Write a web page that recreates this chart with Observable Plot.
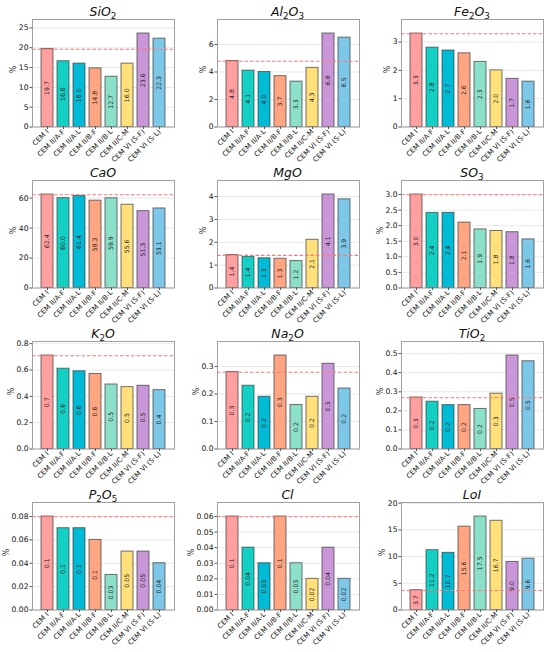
<!DOCTYPE html>
<html>
<head>
<meta charset="utf-8">
<script src="https://cdn.jsdelivr.net/npm/d3@7"></script>
<script src="https://cdn.jsdelivr.net/npm/@observablehq/plot@0.6"></script>
<style>
  body { margin: 0; background: white; font-family: "DejaVu Sans", sans-serif; }
  #chart { position: relative; width: 550px; height: 652px; background: white; overflow: hidden; }
  .ttl { position: absolute; text-align: center; font-size: 12.5px; line-height: 14px; font-style: italic; color: #111; white-space: nowrap; }
  .ttl sub { font-size: 0.7em; line-height: 0; vertical-align: -0.3em; font-style: normal; }
  .pn { position: absolute; }
  .pn svg { max-width: none !important; overflow: visible; }
</style>
</head>
<body>
<div id="chart"></div>
<script>
const cats = ["CEM I","CEM II/A-F","CEM II/A-L","CEM II/B-F","CEM II/B-L","CEM II/C-M","CEM VI (S-F)","CEM VI (S-L)"];
const colors = ["#ff9f9f","#14cfc4","#00bbd5","#ffa582","#8ce0ca","#ffe07a","#c996d8","#7dc8e8"];

const names = ["SiO2","Al2O3","Fe2O3","CaO","MgO","SO3","K2O","Na2O","TiO2","P2O5","Cl","LoI"];

const sio2  = [19.7, 16.6, 16.0, 14.8, 12.7, 16.0, 23.6, 22.3];
const al2o3 = [4.8, 4.1, 4.0, 3.7, 3.3, 4.3, 6.8, 6.5];
const fe2o3 = [3.3, 2.8, 2.7, 2.6, 2.3, 2.0, 1.7, 1.6];
const cao   = [62.4, 60.0, 61.4, 58.3, 59.9, 55.6, 51.3, 53.1];
const mgo   = [1.44, 1.36, 1.30, 1.28, 1.18, 2.11, 4.09, 3.88];
const so3   = [3.0, 2.41, 2.41, 2.10, 1.88, 1.83, 1.79, 1.56];
const k2o   = [0.71, 0.61, 0.59, 0.57, 0.49, 0.47, 0.48, 0.447];
const na2o  = [0.28, 0.23, 0.19, 0.34, 0.16, 0.19, 0.31, 0.22];
const tio2  = [0.27, 0.248, 0.23, 0.23, 0.21, 0.29, 0.49, 0.46];
const p2o5  = [0.08, 0.07, 0.07, 0.06, 0.03, 0.05, 0.05, 0.04];
const cl    = [0.06, 0.04, 0.03, 0.06, 0.03, 0.02, 0.04, 0.02];
const loi   = [3.7, 11.2, 10.7, 15.6, 17.5, 16.7, 9.0, 9.6];

const sio2Ticks  = ["0","5","10","15","20","25"];
const al2o3Ticks = ["0","2","4","6"];
const fe2o3Ticks = ["0","1","2","3"];
const caoTicks   = ["0","20","40","60"];
const mgoTicks   = ["0","1","2","3","4"];
const so3Ticks   = ["0.0","0.5","1.0","1.5","2.0","2.5","3.0"];
const k2oTicks   = ["0.0","0.2","0.4","0.6","0.8"];
const na2oTicks  = ["0.0","0.1","0.2","0.3"];
const tio2Ticks  = ["0.0","0.1","0.2","0.3","0.4","0.5"];
const p2o5Ticks  = ["0.00","0.02","0.04","0.06","0.08"];
const clTicks    = ["0.00","0.01","0.02","0.03","0.04","0.05","0.06"];
const loiTicks   = ["0","5","10","15","20"];

const valueSets = [sio2, al2o3, fe2o3, cao, mgo, so3, k2o, na2o, tio2, p2o5, cl, loi];
const tickSets = [sio2Ticks, al2o3Ticks, fe2o3Ticks, caoTicks, mgoTicks, so3Ticks, k2oTicks, na2oTicks, tio2Ticks, p2o5Ticks, clTicks, loiTicks];

const fmt = v => v < 0.055 ? v.toFixed(2) : v.toFixed(1);

const colLefts = [32, 216.5, 401];
const frameW = 142, frameH = 107.5, rowPitch = 161, top0 = 19;
const mL = 32, mR = 8, mT = 4, mB = 44;

const canvas = document.createElement("canvas");
const ctx = canvas.getContext("2d");
ctx.font = "7.6px 'DejaVu Sans'";

const chart = document.getElementById("chart");

names.forEach((name, i) => {
  const col = i % 3, row = Math.floor(i / 3);
  const L = colLefts[col], T = top0 + row * rowPitch;
  const values = valueSets[i];
  const tickLabels = tickSets[i];
  const tickVals = tickLabels.map(Number);
  const labelMap = new Map(tickVals.map((v, k) => [v, tickLabels[k]]));
  const data = cats.map((c, j) => ({cat: c, v: values[j]}));
  const ymax = d3.max(values) * 1.15;
  const maxW = d3.max(tickLabels, s => ctx.measureText(s).width);
  const off = maxW + 9;

  const plot = Plot.plot({
    width: mL + frameW + mR,
    height: mT + frameH + mB,
    marginLeft: mL, marginRight: mR, marginTop: mT, marginBottom: mB,
    style: {fontFamily: "DejaVu Sans", background: "transparent", overflow: "visible"},
    x: {type: "band", domain: cats, paddingInner: 0.28, paddingOuter: 0.386, axis: null},
    y: {domain: [0, ymax], axis: null},
    color: {type: "ordinal", domain: cats, range: colors},
    marks: [
      Plot.gridY({ticks: tickVals, stroke: "#d4d4d4", strokeOpacity: 0.55}),
      Plot.barY(data, {x: "cat", y: "v", fill: "cat", stroke: "#3a3a3a", strokeOpacity: 0.7, strokeWidth: 1}),
      Plot.ruleY([values[0]], {stroke: "#ff7676", strokeDasharray: "3.5,2", strokeWidth: 1.1, dy: 0.3}),
      Plot.text(data, {x: "cat", y: d => d.v / 2, text: d => fmt(d.v), rotate: -90, fontSize: 6.2, fill: "#222"}),
      Plot.frame({stroke: "#a0a0a0", strokeWidth: 1}),
      Plot.axisY({ticks: tickVals, tickFormat: d => labelMap.get(d), tickSize: 2.5, tickPadding: 1.5, fontSize: 7.6, label: null, stroke: "#555", fill: "#111"}),
      Plot.axisX({tickRotate: -45, tickSize: 2.5, tickPadding: 1, fontSize: 7, label: null, stroke: "#555", fill: "#111"}),
      Plot.text(["%"], {frameAnchor: "left", dx: -off, rotate: -90, fontSize: 8, fill: "#333"})
    ]
  });

  const wrap = document.createElement("div");
  wrap.className = "pn";
  wrap.style.left = (L - mL) + "px";
  wrap.style.top = (T - mT) + "px";
  wrap.appendChild(plot);
  chart.appendChild(wrap);

  const t = document.createElement("div");
  t.className = "ttl";
  t.style.left = L + "px";
  t.style.width = frameW + "px";
  t.style.top = (T - 14.5) + "px";
  t.innerHTML = name.replace(/(\d)/g, "<sub>$1</sub>");
  chart.appendChild(t);
});
</script>
</body>
</html>
